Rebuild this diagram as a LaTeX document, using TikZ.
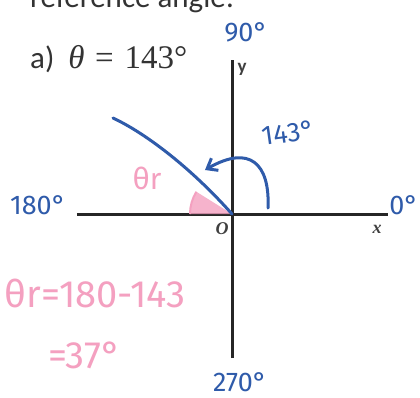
\documentclass[tikz,border=0pt]{standalone}
\usepackage{fontspec}
\setmainfont{Carlito}
\newfontfamily\hand{Fira Sans}
\newfontfamily\axisfont{Liberation Serif}
\usetikzlibrary{arrows.meta,positioning}
\definecolor{penblue}{RGB}{47,91,170}
\definecolor{penpink}{RGB}{244,160,192}
\tikzset{axis/.style={line width=3pt,black!85}}
\tikzset{axislab/.style={text=black!75,font=\axisfont\bfseries\itshape\fontsize{18}{18}\selectfont}}
\tikzset{bluepen/.style={text=penblue,font=\hand\fontsize{27}{27}\selectfont}}
\tikzset{pinkpen/.style={text=penpink,font=\hand\fontsize{38}{38}\selectfont}}

\begin{document}
\begin{tikzpicture}[x=1pt,y=1pt]
\useasboundingbox (-232,-183) rectangle (188,214);
\fill[white] (-232,-183) rectangle (188,214);
% title lines
\node[anchor=base west,inner sep=0pt,font=\fontsize{31}{31}\selectfont,text=black!80] (head) at (-202,207) {reference angle:};
\node[anchor=base west,inner sep=0pt,font=\fontsize{31}{31}\selectfont,text=black!80] (item) at (-202,146) {a)\ \ {\axisfont\fontsize{33}{33}\selectfont\itshape θ}\,\,{\axisfont\fontsize{33}{33}\selectfont=\,\,143°}};
% axes
\coordinate (O) at (0,0);
\coordinate (xl) at (-155,0);
\coordinate (xr) at (156,0);
\coordinate (yt) at (0,154);
\coordinate (yb) at (0,-144);
\draw[axis] (xl) -- (xr);
\draw[axis] (yb) -- (yt);
\node[font=\bfseries\fontsize{19}{19}\selectfont,text=black!75] (ylab) at (10,145) {y};
\node[axislab] (olab) at (-10,-15) {O};
\node[axislab] (xlab) at (145,-15) {x};
% reference angle
\fill[penpink,opacity=0.8] (O) -- (-42,0) arc[start angle=180,end angle=148,radius=42] -- cycle;
\draw[penpink,line width=2pt] (-42,0) arc[start angle=180,end angle=148,radius=42];
% terminal side and rotation
\coordinate (tip) at (-119,96);
\draw[penblue,line width=3pt,line cap=round] (tip) .. controls (-85,80) and (-40,45) .. (O);
\coordinate (arcstart) at (36,6);
\coordinate (arcend) at (-27,44);
\draw[penblue,line width=3pt,line cap=round,-{Straight Barb[length=9pt,width=14pt]}] (arcstart) .. controls (38,50) and (18,70) .. (arcend);
% labels
\node[bluepen] (l90) at (14,182) {90°};
\node[bluepen,rotate=8] (l143) at (56,81) {143°};
\node[bluepen] (l180) at (-194,9) {180°};
\node[bluepen] (l0) at (172,9) {0°};
\node[bluepen] (l270) at (8,-168) {270°};
\node[pinkpen,font=\hand\fontsize{30}{30}\selectfont] (thr) at (-85,36) {θr};
\node[pinkpen,anchor=west] (eq1) at (-231,-79) {θr=180-143};
\node[pinkpen] (eq2) at (-147,-141) {=37°};
\end{tikzpicture}
\end{document}
